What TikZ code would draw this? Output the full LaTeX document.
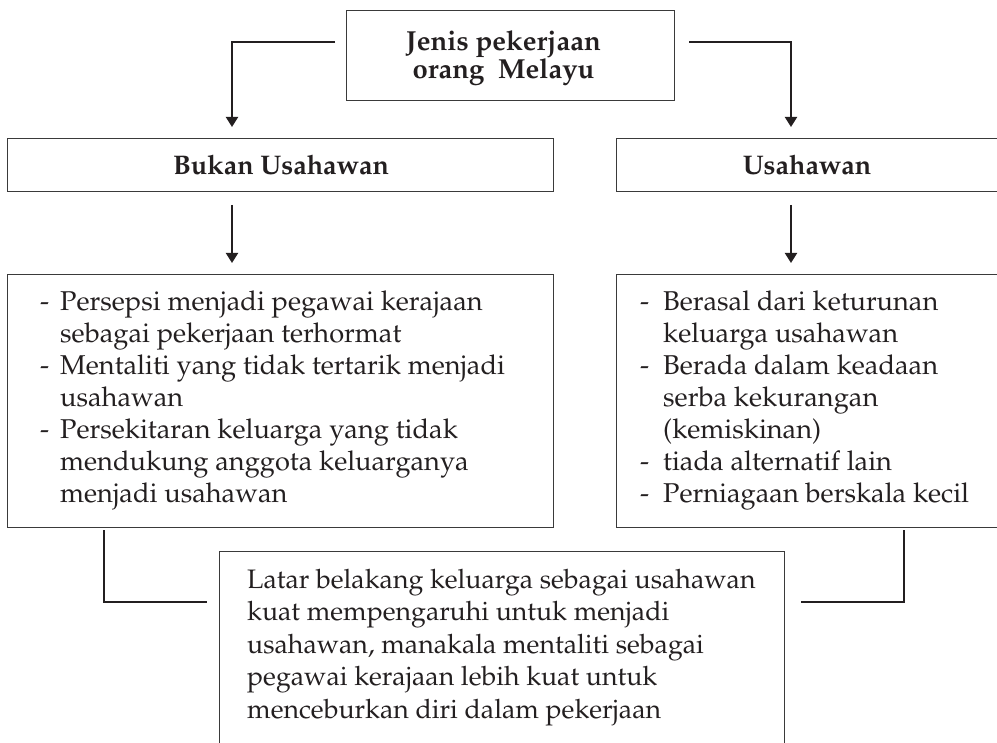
\documentclass[tikz,border=0pt]{standalone}
\usepackage[T1]{fontenc}
\usepackage{mathpazo}
\usetikzlibrary{arrows.meta}
\definecolor{ink}{HTML}{231F20}
\definecolor{edge}{HTML}{3A3A3A}
\tikzset{
  boxnode/.style={draw=edge, line width=1.3pt, rectangle, inner sep=0pt, anchor=north west},
  headtxt/.style={inner sep=0pt, text=ink, anchor=base, font=\bfseries\fontsize{26.9}{25.5}\selectfont, align=center},
  listtxt/.style={inner sep=0pt, text=ink, anchor=base west, font=\fontsize{27.2}{31.9}\selectfont},
  bodytxt/.style={inner sep=0pt, text=ink, anchor=base west, font=\fontsize{26.7}{32.5}\selectfont, align=left},
  arrowline/.style={draw=ink, line width=2pt, -{Triangle[width=12pt,length=10pt]}},
  joinline/.style={draw=ink, line width=2.6pt}
}
\newcommand{\dashitem}{\makebox[20pt][l]{-}}
\begin{document}
\begin{tikzpicture}[x=1pt,y=-1pt]
\useasboundingbox (0,0) rectangle (997,743);
\clip (0,0) rectangle (997,743);
% boxes
\node[boxnode, minimum width=328pt, minimum height=90pt] (title) at (346,10) {};
\node[boxnode, minimum width=546pt, minimum height=53pt] (bukan) at (7,138) {};
\node[boxnode, minimum width=400pt, minimum height=53pt] (usaha) at (616,138) {};
\node[boxnode, minimum width=546pt, minimum height=253pt] (leftlist) at (7,274) {};
\node[boxnode, minimum width=400pt, minimum height=253pt] (rightlist) at (616,274) {};
\node[boxnode, minimum width=565pt, minimum height=240pt] (bottom) at (219,551) {};
% texts
\node[headtxt, font=\bfseries\fontsize{27.5}{25.5}\selectfont] (titletext) at (503.5,78.5) {Jenis pekerjaan\\orang\ \ Melayu};
\node[headtxt] (bukantext) at (281,175) {Bukan Usahawan};
\node[headtxt] (usahatext) at (807,175) {Usahawan};
\node[listtxt] (lefttext) at (40,310.7) {\begin{tabular}[t]{@{}l@{}l@{}}
\dashitem & Persepsi menjadi pegawai kerajaan\\
 & sebagai pekerjaan terhormat\\
\dashitem & Mentaliti yang tidak tertarik menjadi\\
 & usahawan\\
\dashitem & Persekitaran keluarga yang tidak\\
 & mendukung anggota keluarganya\\
 & menjadi usahawan
\end{tabular}};
\node[listtxt] (righttext) at (640,310.7) {\begin{tabular}[t]{@{}l@{}l@{}}
\makebox[23pt][l]{-} & Berasal dari keturunan\\
 & keluarga usahawan\\
\makebox[23pt][l]{-} & Berada dalam keadaan\\
 & serba kekurangan\\
 & (kemiskinan)\\
\makebox[23pt][l]{-} & tiada alternatif lain\\
\makebox[23pt][l]{-} & Perniagaan berskala kecil
\end{tabular}};
\node[bodytxt] (bottomtext) at (247,718) {Latar belakang keluarga sebagai usahawan\\
kuat mempengaruhi untuk menjadi\\
usahawan, manakala mentaliti sebagai\\
pegawai kerajaan lebih kuat untuk\\
menceburkan diri dalam pekerjaan};
% connector points
\coordinate (t1) at (335,42);
\coordinate (t2) at (689,42);
\coordinate (b1) at (232,127);
\coordinate (b2) at (791,127);
\coordinate (c1) at (232,205);
\coordinate (c2) at (791,205);
\coordinate (d1) at (232,263);
\coordinate (d2) at (791,263);
\coordinate (e1) at (104,530);
\coordinate (e2) at (904,530);
\coordinate (f1) at (207,602);
\coordinate (f2) at (801,602);
% connectors
\draw[arrowline] (t1) -| (b1);
\draw[arrowline] (t2) -| (b2);
\draw[arrowline] (c1) -- (d1);
\draw[arrowline] (c2) -- (d2);
\draw[joinline] (e1) |- (f1);
\draw[joinline] (e2) |- (f2);
\end{tikzpicture}
\end{document}
